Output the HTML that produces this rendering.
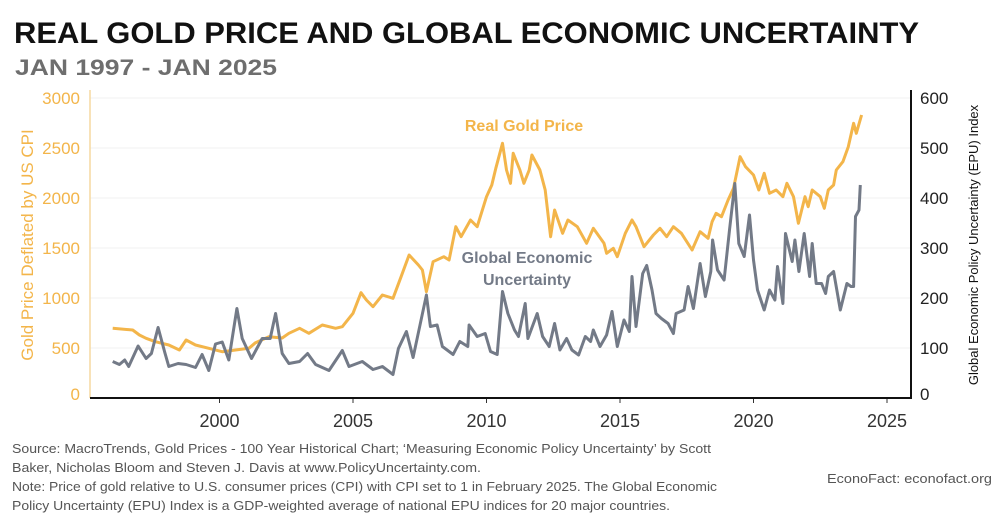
<!DOCTYPE html>
<html><head><meta charset="utf-8"><style>
html,body{margin:0;padding:0;background:#fff;}
svg{display:block;font-family:"Liberation Sans",sans-serif;}
</style></head><body>
<svg id="chart" width="1000" height="525" viewBox="0 0 1000 525">
<text x="14" y="43" font-size="30" font-weight="bold" fill="#111" textLength="905" lengthAdjust="spacingAndGlyphs">REAL GOLD PRICE AND GLOBAL ECONOMIC UNCERTAINTY</text>
<text x="15" y="75" font-size="22" font-weight="bold" fill="#6e6e6e" textLength="262" lengthAdjust="spacingAndGlyphs">JAN 1997 - JAN 2025</text>
<g id="grid"></g>
<g id="axes"></g>
<g id="series"></g>
<text x="524" y="131" font-size="16" font-weight="bold" fill="#f3b54a" text-anchor="middle">Real Gold Price</text>
<text x="527" y="263" font-size="16" font-weight="bold" fill="#737a87" text-anchor="middle">Global Economic</text>
<text x="527" y="285" font-size="16" font-weight="bold" fill="#737a87" text-anchor="middle">Uncertainty</text>
<text transform="translate(33,245) rotate(-90)" font-size="17" fill="#f3b54a" text-anchor="middle">Gold Price Deflated by US CPI</text>
<text transform="translate(978,245) rotate(-90)" font-size="13" fill="#111" text-anchor="middle">Global Economic Policy Uncertainty (EPU) Index</text>
<g font-size="13" fill="#555">
<text x="12" y="453" textLength="699" lengthAdjust="spacingAndGlyphs">Source: MacroTrends, Gold Prices - 100 Year Historical Chart; ‘Measuring Economic Policy Uncertainty’ by Scott</text>
<text x="12" y="472" textLength="469" lengthAdjust="spacingAndGlyphs">Baker, Nicholas Bloom and Steven J. Davis at www.PolicyUncertainty.com.</text>
<text x="12" y="491" textLength="705" lengthAdjust="spacingAndGlyphs">Note: Price of gold relative to U.S. consumer prices (CPI) with CPI set to 1 in February 2025. The Global Economic</text>
<text x="12" y="510" textLength="658" lengthAdjust="spacingAndGlyphs">Policy Uncertainty (EPU) Index is a GDP-weighted average of national EPU indices for 20 major countries.</text>
<text x="827" y="483" textLength="165" lengthAdjust="spacingAndGlyphs">EconoFact:  econofact.org</text>
</g>
</svg>
<script>
const goldYears=[1996.0,1996.75,1997.0,1997.25,1997.6,1998.1,1998.5,1998.75,1999.1,1999.6,2000.1,2000.6,2001.1,2001.35,2001.85,2002.35,2002.6,2003.0,2003.35,2003.85,2004.35,2004.6,2005.0,2005.3,2005.5,2005.75,2006.1,2006.5,2006.8,2007.1,2007.45,2007.6,2007.75,2008.0,2008.4,2008.6,2008.85,2009.05,2009.4,2009.65,2010.0,2010.2,2010.35,2010.6,2010.75,2010.9,2011.0,2011.25,2011.4,2011.6,2011.7,2012.0,2012.2,2012.4,2012.55,2012.85,2013.05,2013.4,2013.75,2014.0,2014.4,2014.5,2014.75,2014.9,2015.2,2015.45,2015.6,2015.9,2016.25,2016.5,2016.75,2017.0,2017.3,2017.7,2018.0,2018.3,2018.45,2018.6,2018.8,2019.05,2019.25,2019.5,2019.7,2020.0,2020.2,2020.4,2020.6,2020.85,2021.1,2021.25,2021.5,2021.68,2021.93,2022.05,2022.2,2022.5,2022.65,2022.8,2023.0,2023.1,2023.35,2023.55,2023.75,2023.85,2024.05];
const goldValues=[697,680,630,597,563,530,480,580,530,497,463,480,497,553,613,600,647,697,647,730,697,713,847,1053,980,913,1030,997,1213,1430,1330,1280,1063,1363,1413,1380,1713,1613,1780,1713,2013,2130,2297,2547,2280,2147,2447,2280,2147,2280,2430,2280,2080,1613,1880,1647,1780,1713,1547,1697,1547,1447,1497,1413,1647,1780,1713,1513,1630,1697,1613,1713,1647,1480,1663,1597,1763,1847,1813,1980,2097,2413,2313,2230,2080,2247,2047,2080,2013,2147,2013,1747,2013,1913,2080,2013,1897,2080,2130,2280,2363,2513,2747,2647,2830];
const epuYears=[1996.0,1996.25,1996.45,1996.6,1996.95,1997.25,1997.45,1997.7,1997.95,1998.1,1998.45,1998.75,1999.1,1999.35,1999.6,1999.85,2000.1,2000.35,2000.65,2000.85,2001.2,2001.6,2001.9,2002.1,2002.35,2002.6,2003.0,2003.3,2003.6,2004.1,2004.6,2004.85,2005.35,2005.75,2006.1,2006.5,2006.7,2007.0,2007.25,2007.75,2007.9,2008.15,2008.35,2008.75,2009.0,2009.3,2009.35,2009.65,2009.95,2010.15,2010.4,2010.6,2010.8,2011.05,2011.2,2011.45,2011.55,2011.9,2012.1,2012.35,2012.55,2012.75,2013.0,2013.2,2013.45,2013.7,2013.9,2014.0,2014.25,2014.5,2014.7,2014.9,2015.15,2015.35,2015.45,2015.6,2015.85,2016.0,2016.2,2016.35,2016.55,2016.8,2017.0,2017.1,2017.4,2017.55,2017.75,2018.0,2018.2,2018.4,2018.47,2018.65,2018.9,2019.1,2019.3,2019.45,2019.65,2019.85,2020.0,2020.15,2020.4,2020.6,2020.8,2020.9,2021.1,2021.2,2021.45,2021.55,2021.7,2021.9,2022.1,2022.2,2022.35,2022.55,2022.7,2022.8,2023.0,2023.25,2023.5,2023.65,2023.75,2023.82,2023.95,2024.0];
const epuValues=[73,67,76,63,104,79,89,141,91,63,69,67,61,87,55,108,112,76,179,119,79,119,119,169,89,69,73,89,67,55,95,63,73,57,63,47,99,133,81,206,143,146,103,87,113,103,146,123,129,93,87,213,169,136,123,189,119,169,123,103,149,96,119,96,86,123,113,136,103,126,173,103,156,133,243,143,249,265,216,169,159,149,129,169,176,223,179,269,203,253,316,256,236,336,429,309,283,366,276,216,176,216,196,263,189,329,273,316,253,329,243,309,229,229,209,243,253,176,229,223,223,363,376,426];
const leftTicks=[0,500,1000,1500,2000,2500,3000];
const rightTicks=[0,100,200,300,400,500,600];
const xTicks=[2000,2005,2010,2015,2020,2025];

const NS='http://www.w3.org/2000/svg';
const X0=90,X1=911,Y0=398;
const xScale=y=>219.5+(y-2000)*26.7;
const yGold=v=>Y0-v*0.1;
const yEpu=v=>Y0-v*0.5;
function mk(tag,attrs,parent){const e=document.createElementNS(NS,tag);for(const k in attrs)e.setAttribute(k,attrs[k]);parent.appendChild(e);return e;}
const grid=document.getElementById('grid'),axes=document.getElementById('axes'),series=document.getElementById('series');
leftTicks.forEach((t,i)=>{
  if(t>0){const g=mk('line',{x1:X0,x2:X1,y1:yGold(t),y2:yGold(t),stroke:'#f0f0f0','stroke-width':1},grid);
  
  }
  const tx=mk('text',{x:80,y:(t===0?yGold(t)-4:yGold(t))+6,'font-size':17,fill:'#f3b54a','text-anchor':'end'},axes);
  tx.textContent=t;
  
  
});
rightTicks.forEach(t=>{
  const tx=mk('text',{x:920,y:(t===0?yEpu(t)-4:yEpu(t))+6,'font-size':17,fill:'#222'},axes);
  tx.textContent=t;
  
  
});
xTicks.forEach(t=>{
  const tk=mk('line',{x1:xScale(t),x2:xScale(t),y1:Y0,y2:Y0+5,stroke:'#333','stroke-width':1},axes);
  
  
  const tx=mk('text',{x:xScale(t),y:427,'font-size':18,fill:'#333','text-anchor':'middle'},axes);
  tx.textContent=t;
  
  
});
const la=mk('line',{x1:X0,x2:X0,y1:90,y2:Y0,stroke:'#f6d9a0','stroke-width':1.5},axes);


const ra=mk('line',{x1:X1,x2:X1,y1:90,y2:Y0,stroke:'#111','stroke-width':2},axes);


const ba=mk('line',{x1:X0,x2:X1+1,y1:Y0,y2:Y0,stroke:'#111','stroke-width':2},axes);


const gp=mk('path',{d:goldYears.map((y,i)=>(i?'L':'M')+xScale(y).toFixed(1)+','+yGold(goldValues[i]).toFixed(1)).join(''),fill:'none',stroke:'#f3b54a','stroke-width':3,'stroke-linejoin':'round'},series);


const ep=mk('path',{d:epuYears.map((y,i)=>(i?'L':'M')+xScale(y).toFixed(1)+','+yEpu(epuValues[i]).toFixed(1)).join(''),fill:'none',stroke:'#737a87','stroke-width':3,'stroke-linejoin':'round'},series);


</script>
</body></html>
